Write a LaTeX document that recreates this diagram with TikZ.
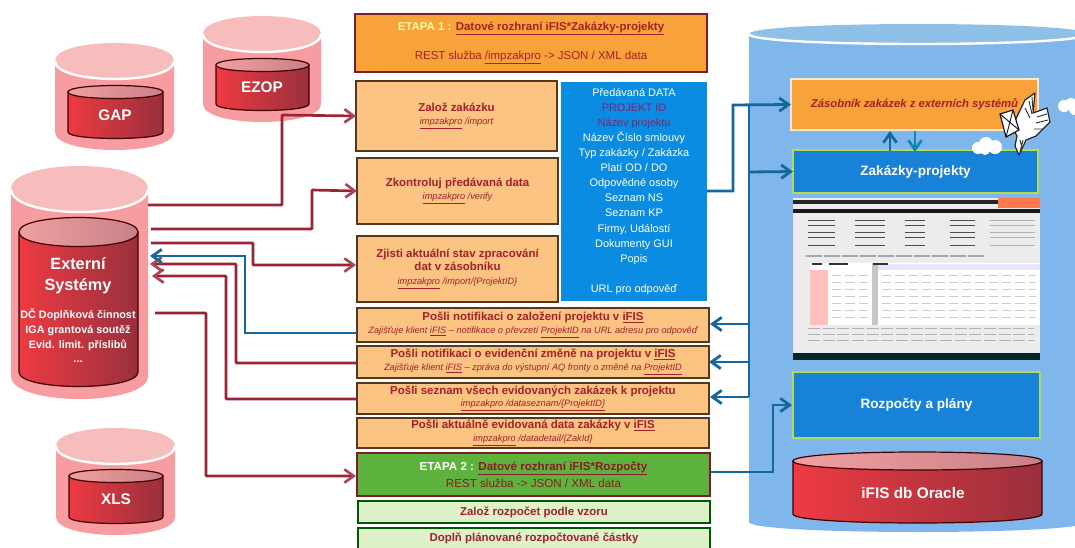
\documentclass[tikz,border=0pt]{standalone}
\usepackage{fontspec}
\setmainfont{Liberation Sans}
\usetikzlibrary{arrows.meta}
\definecolor{redtx}{HTML}{A3202C}
\definecolor{redln}{HTML}{9A2436}
\definecolor{blueln}{HTML}{14689F}
\definecolor{peach}{HTML}{FBC482}
\definecolor{orng}{HTML}{F8A23A}
\definecolor{boxblue}{HTML}{0A8CE2}
\definecolor{pjblue}{HTML}{1782D8}
\definecolor{limeln}{HTML}{B4DC50}
\definecolor{grn}{HTML}{5CB23C}
\definecolor{lgrn}{HTML}{DDF2C8}
\definecolor{pinkbody}{HTML}{F79CA0}
\definecolor{pinktop}{HTML}{F7BDBD}
\definecolor{skybody}{HTML}{7FB7EC}
\definecolor{skytop}{HTML}{8FC0E8}
\definecolor{purp}{HTML}{8A2070}
\newcommand\fz[2]{\fontsize{#1}{#2}\selectfont}
\newcommand\subf{\fz{6.9}{8}\mdseries\itshape}
\newcommand\boxn[7]{\node[#2,anchor=north west,inner sep=0pt,outer sep=0pt,
  minimum width={(#5-#3)*0.75pt},minimum height={(#6-#4)*0.75pt}] (#1) at (#3,#4) {#7};}
\newcommand\outercyl[7]{%
  \pgfmathsetmacro\ca{#3+#5*1.333}\pgfmathsetmacro\cb{#4+#5*1.333}\pgfmathsetmacro\cc{#3-#5*1.333}%
  \fill[#6] (#1,#3) -- (#1,#4) .. controls (#1,\cb) and (#2,\cb) .. (#2,#4) -- (#2,#3) -- cycle;
  \fill[#7] (#1,#3) .. controls (#1,\cc) and (#2,\cc) .. (#2,#3) .. controls (#2,\ca) and (#1,\ca) .. (#1,#3) -- cycle;
  \draw[white,line width=1.8pt] (#1,#3) .. controls (#1,\ca) and (#2,\ca) .. (#2,#3);}
\newcommand\innercyl[5]{%
  \pgfmathsetmacro\ca{#3+#5*1.333}\pgfmathsetmacro\cb{#4+#5*1.333}\pgfmathsetmacro\cc{#3-#5*1.333}%
  \draw[cylline,left color=cylL,middle color=cylM,right color=cylR] (#1,#3) -- (#1,#4) .. controls (#1,\cb) and (#2,\cb) .. (#2,#4) -- (#2,#3) -- cycle;
  \draw[cylline,left color=cyltL,right color=cyltR] (#1,#3) .. controls (#1,\cc) and (#2,\cc) .. (#2,#3) .. controls (#2,\ca) and (#1,\ca) .. (#1,#3) -- cycle;}
\definecolor{cylL}{HTML}{EE3A42}
\definecolor{cylM}{HTML}{D8343C}
\definecolor{cylR}{HTML}{98303C}
\definecolor{cyltL}{HTML}{F0A0A0}
\definecolor{cyltR}{HTML}{C88088}
\tikzset{
  cylline/.style={draw=black!75!red,line width=0.9pt},
  cyltitle/.style={text=white,font=\fz{11.5}{12}\bfseries},
  etapa/.style={draw=redln!80!black,line width=1.1pt,align=center},
  task/.style={fill=peach,draw=black!55!brown,line width=0.8pt,align=center,text=redtx,font=\fz{8.6}{10.4}\bfseries},
  lgbox/.style={fill=lgrn,draw=black!50!green!70!black,line width=0.8pt,align=center,text=redtx,font=\fz{8.6}{10}\bfseries},
  datab/.style={fill=boxblue,align=center,text=white,font=\fz{8.2}{11.3}},
  pjbox/.style={fill=pjblue,draw=limeln,line width=1pt,text=white,font=\fz{10.2}{12}\bfseries},
  redc/.style={draw=redln,line width=2pt,rounded corners=0.5pt,-{Straight Barb[length=7pt,width=10pt,color=redln!85!white]}},
  bluec/.style={draw=blueln,line width=2.1pt,-{Straight Barb[length=7pt,width=10pt]}},
  bluel/.style={draw=blueln,line width=2.1pt},
  feather/.style={draw=black!80,line width=0.7pt},
}
\begin{document}
\begin{tikzpicture}[x=0.75pt,y=-0.75pt]
\useasboundingbox (0,0) rectangle (1075,547);
\fill[white] (0,0) rectangle (1075,547);
% --- big blue cylinder
\outercyl{749}{1087}{34}{522}{10}{skybody}{skytop}
% --- red cylinders
\outercyl{55}{174}{61}{132}{18}{pinkbody}{pinktop}
\innercyl{68}{163}{92}{132}{6.5}
\node[cyltitle] (gap) at (115,115) {GAP};
\outercyl{203}{321}{34}{104}{18}{pinkbody}{pinktop}
\innercyl{216}{309}{65}{104}{6.5}
\node[cyltitle] (ezop) at (262,87) {EZOP};
\outercyl{11}{148}{189}{376}{23}{pinkbody}{pinktop}
\innercyl{19}{138}{232}{372}{14.5}
\node[cyltitle,align=center,font=\fz{12.2}{16}\bfseries] (ext) at (78,276) {Externí\\Systémy};
\node[text=white,align=center,font=\fz{8.1}{11}\bfseries] (extd) at (78,336) {DČ Doplňková činnost\\IGA grantová soutěž\\Evid. limit. příslibů\\...};
\outercyl{56}{175}{446}{517}{18}{pinkbody}{pinktop}
\innercyl{69}{163}{476}{517}{6.5}
\node[cyltitle] (xls) at (116,499) {XLS};
% --- middle column
\boxn{et1}{etapa,fill=orng,text=redtx,font=\fz{8.6}{22}}{355}{14}{707}{72}{{\color{yellow!35}\bfseries ETAPA 1 :} {\bfseries\underline{Datové rozhraní iFIS*Zakázky-projekty}}\\REST služba \underline{/impzakpro} -> JSON / XML data}
\boxn{zaloz}{task}{356}{81}{557}{151}{Založ zakázku\\{\subf\underline{impzakpro} /import}}
\boxn{zkon}{task}{357}{158}{558}{224}{Zkontroluj předávaná data\\{\subf\underline{impzakpro} /verify}}
\boxn{zjisti}{task}{357}{236}{558}{302}{Zjisti aktuální stav zpracování\\dat v zásobníku\\{\subf\underline{impzakpro} /import/\{ProjektID\}}}
\boxn{data}{datab}{561}{82}{707}{301}{Předávaná DATA\\{\color{purp}PROJEKT ID}\\{\color{purp}Název projektu}\\Název Číslo smlouvy\\Typ zakázky / Zakázka\\Platí OD / DO\\Odpovědné osoby\\Seznam NS\\Seznam KP\\Firmy, Událostí\\Dokumenty GUI\\Popis\\ \\URL pro odpověď}
\boxn{p1}{task}{357}{308}{709}{342}{Pošli notifikaci o založení projektu v \underline{iFIS}\\[-1pt]{\subf Zajišťuje klient \underline{iFIS} – notifikace o převzetí \underline{ProjektID} na URL adresu pro odpověď}}
\boxn{p2}{task}{357}{346}{709}{378}{Pošli notifikaci o evidenční změně na projektu v \underline{iFIS}\\[-1pt]{\subf Zajišťuje klient \underline{iFIS} – zpráva do výstupní AQ fronty o změně na \underline{ProjektID}}}
\boxn{p3}{task}{357}{383}{709}{414}{Pošli seznam všech evidovaných zakázek k projektu\\[-1pt]{\subf\underline{impzakpro /dataseznam/\{ProjektID\}}}}
\boxn{p4}{task}{357}{418}{709}{448}{Pošli aktuálně evidovaná data zakázky v \underline{iFIS}\\[-1pt]{\subf\underline{impzakpro} /datadetail/\{ZakId\}}}
\boxn{et2}{etapa,fill=grn,text=redtx!85!black,font=\fz{8.7}{12.5}}{357}{453}{710}{496}{{\color{white}\bfseries ETAPA 2 :} {\bfseries\underline{Datové rozhraní iFIS*Rozpočty}}\\REST služba -> JSON / XML data}
\boxn{zr}{lgbox}{358}{501}{710}{523}{Založ rozpočet podle vzoru}
\boxn{dp}{lgbox}{358}{528}{710}{552}{\raisebox{3.5pt}{Doplň plánované rozpočtované částky}}
% --- right column
\boxn{zas}{fill=orng,draw=white!80!orange,line width=0.8pt,text=redtx,font=\fz{8.5}{10}\bfseries\itshape}{791}{79}{1038}{130}{Zásobník zakázek z externích systémů}
\boxn{zak}{pjbox}{793}{150}{1038}{193}{Zakázky-projekty}
\boxn{roz}{pjbox}{793}{372}{1040}{438}{Rozpočty a plány}
% screenshot
\fill[gray!15] (793,198) rectangle (1040,356);
\fill[white] (810,263) rectangle (1040,325);
\fill[black!85] (793,200) rectangle (998,204);
\fill[black!90] (793,209) rectangle (1040,213);
\fill[red!50!orange!70] (998,198) rectangle (1040,208);
\fill[black!70!teal] (793,353) rectangle (1040,360);
\fill[pink] (810,270) rectangle (828,325);
\fill[blue!10] (878,264) rectangle (1040,270);
\fill[gray!45] (872,263) rectangle (878,325);
\foreach \yy in {220,225,232,237,245}{
  \draw[black!70,line width=0.6pt] (808,\yy) -- (835,\yy) (855,\yy) -- (885,\yy) (905,\yy) -- (925,\yy) (950,\yy) -- (975,\yy);
  \draw[gray!60,line width=0.5pt] (990,\yy) -- (1035,\yy);}
\draw[gray!70,line width=1.6pt,dash pattern=on 12pt off 1.5pt] (806,256) -- (985,256);
\foreach \yy in {275,282,289,296,303,310,317}{
  \draw[gray!40,line width=0.4pt,dash pattern=on 7pt off 3pt] (832,\yy) -- (870,\yy) (882,\yy) -- (1036,\yy);}
\foreach \yy in {328,334,340}{
  \draw[gray!60,line width=0.5pt,dash pattern=on 9pt off 2pt] (808,\yy) -- (1034,\yy);}
\draw[black!80,line width=0.8pt] (812,264) -- (822,264) (829,264) -- (848,264) (873,264) -- (888,264);
% oracle
\innercyl{793}{1042}{461}{514}{9}
\node[cyltitle,font=\fz{11.5}{13}\bfseries] (ora) at (913,493) {iFIS db Oracle};
% clouds
\fill[white] (978,148) circle (6) (986,144) circle (7) (995,147) circle (7) (985,150) circle (5);
\fill[white] (1064,106) circle (6) (1071,104) circle (6) (1075,109) circle (6);
% dove with letter
\filldraw[fill=white,draw=black!85,line width=0.9pt,line join=round]
 (1012,127) -- (1025,100) -- (1035,93) -- (1033,113) -- (1047,108) -- (1050,122) -- (1036,136)
 -- (1026,140) -- (1019,155) -- (1015,146) -- (1017,136) -- cycle;
\draw[feather] (1025,108) -- (1030,118) (1029,101) -- (1032,114) (1032,97) -- (1033,110) (1037,117) -- (1047,114) (1036,123) -- (1048,120) (1034,129) -- (1043,129) (1020,140) -- (1022,148) (1023,140) -- (1020,152);
\filldraw[fill=white,draw=black!90,line width=0.9pt] (1000,114) -- (1013,110) -- (1019,130) -- (1006,137) -- cycle;
\draw[black!90,line width=0.7pt] (1000,114) -- (1019,130) (1013,110) -- (1006,137);
% --- connector anchors
\coordinate (exa) at (148,205);
\coordinate (exb) at (151,229);
\coordinate (exc) at (151,243);
\coordinate (exd) at (150,256);
\coordinate (exe) at (150,264);
\coordinate (exf) at (152,276);
\coordinate (exg) at (155,313);
\coordinate (zj) at (356,265);
\coordinate (pa) at (357,333);
\coordinate (pb) at (357,363);
\coordinate (pc) at (357,399);
\coordinate (etw) at (356,476);
\coordinate (ete) at (710,472);
\coordinate (rozw) at (792,405);
% --- red connectors
\draw[redc] (exa) -- (282,205) -- (282,115) -- (zaloz.west);
\draw[redc] (exb) -- (312,229) -- (312,190) -- (zkon.west);
\draw[redc] (exc) -- (253,243) -- (253,265) -- (zj);
\draw[redc] (pb) -- (236,363) -- (236,264) -- (exe);
\draw[redc] (pc) -- (226,399) -- (226,276) -- (exf);
\draw[redc] (exg) -- (206,313) -- (206,476) -- (etw);
% --- blue connectors
\draw[bluec] (pa) -- (245,333) -- (245,256) -- (exd);
\coordinate (dr) at (707,191);
\coordinate (busT) at (749,105);
\coordinate (busB) at (749,397);
\coordinate (pe1) at (710,324);
\coordinate (pe3) at (710,397);
\draw[bluec] (dr) -- (733,191) -- (733,105) -- (zas.west);
\draw[bluel,line cap=butt] (busT) -- (busB);
\draw[bluec] (749,172) -- (zak.west);
\draw[bluec] (749,324) -- (pe1);
\draw[bluec] (749,362) -- (p2.east);
\draw[bluec] (busB) -- (pe3);
\draw[bluec] (ete) -- (773,472) -- (773,405) -- (rozw);
\coordinate (u1a) at (890,151);
\coordinate (u1b) at (890,131);
\coordinate (u2a) at (915,131);
\coordinate (u2b) at (915,152);
\draw[bluec] (u1a) -- (u1b);
\draw[bluec,draw=blueln!80!cyan] (u2a) -- (u2b);
\end{tikzpicture}
\end{document}
